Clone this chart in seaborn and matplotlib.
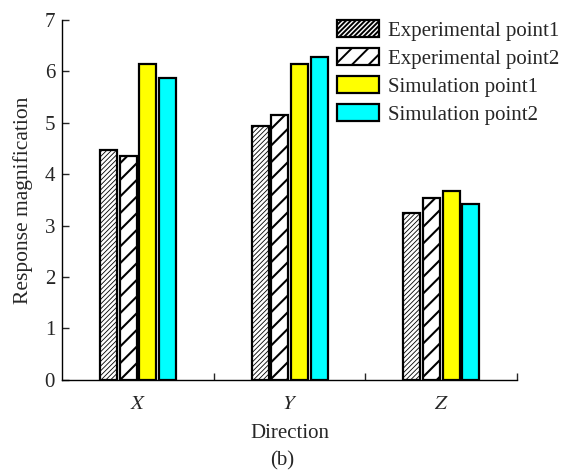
import pandas as pd
import numpy as np
import matplotlib.pyplot as plt
import seaborn as sns
from matplotlib.patches import Patch

# =====================================================
# DATA
# =====================================================
directions = ['X', 'Y', 'Z']
series = ['Experimental point1', 'Experimental point2', 'Simulation point1', 'Simulation point2']
exp_point1 = [4.46, 4.94, 3.24]
exp_point2 = [4.36, 5.15, 3.53]
sim_point1 = [6.15, 6.15, 3.68]
sim_point2 = [5.87, 6.27, 3.41]

df = pd.DataFrame({
    'Direction': directions * 4,
    'Series': np.repeat(series, 3),
    'Value': exp_point1 + exp_point2 + sim_point1 + sim_point2,
})

# =====================================================
# STYLE
# =====================================================
sns.set_theme(style='ticks')
plt.rcParams['font.family'] = ['Liberation Serif', 'DejaVu Serif']
plt.rcParams['mathtext.fontset'] = 'stix'
plt.rcParams['hatch.linewidth'] = 1.4

colors = ['white', 'white', '#ffff00', '#00ffff']
hatches = ['///////', '//', '', '']
hatch_lw = [0.6, 1.5, 1.0, 1.0]

fig = plt.figure(figsize=(5.64, 4.73), dpi=100)
ax = fig.add_axes([0.110, 0.197, 0.807, 0.761])

sns.barplot(
    ax=ax, data=df, x='Direction', y='Value', hue='Series',
    palette=colors, width=0.52, gap=0.14,
    edgecolor='black', linewidth=1.6, saturation=1, legend=False,
)

for container, h, lw in zip(ax.containers, hatches, hatch_lw):
    for p in container:
        p.set_hatch(h)
        if hasattr(p, 'set_hatch_linewidth'):
            p.set_hatch_linewidth(lw)

# legend
handles = []
for c, h, lw in zip(colors, hatches, hatch_lw):
    hp = Patch(facecolor=c, edgecolor='black', hatch=h, linewidth=1.6)
    if hasattr(hp, 'set_hatch_linewidth'):
        hp.set_hatch_linewidth(lw)
    handles.append(hp)
fig.legend(handles, series, loc='upper left', bbox_to_anchor=(0.597, 0.957),
           frameon=False, fontsize=15, handlelength=2.05, handleheight=0.85,
           handletextpad=0.4, labelspacing=0.36, borderaxespad=0, borderpad=0)

# axes
ax.set_xlim(-0.5, 2.5)
ax.set_ylim(0, 7)
ax.set_yticks(range(0, 8))
ax.set_xticks([0, 1, 2])
ax.set_xticklabels([f'$\\mathit{{{d}}}$' for d in directions])
ax.set_xticks([0.5, 1.5, 2.5], minor=True)
ax.tick_params(axis='x', which='major', length=0, labelsize=15, pad=11)
ax.tick_params(axis='x', which='minor', direction='in', length=5, width=1)
ax.tick_params(axis='y', direction='in', length=5, width=1, labelsize=15, pad=5)
ax.set_xlabel('Direction', fontsize=15, labelpad=7)
ax.set_ylabel('Response magnification', fontsize=15.5, labelpad=8)
sns.despine(ax=ax)
for s in ['left', 'bottom']:
    ax.spines[s].set_linewidth(1.0)
    ax.spines[s].set_color('black')

fig.text(0.5, 0.026, '(b)', ha='center', va='center', fontsize=15)

fig.savefig('out.png', dpi=100)
plt.close()
